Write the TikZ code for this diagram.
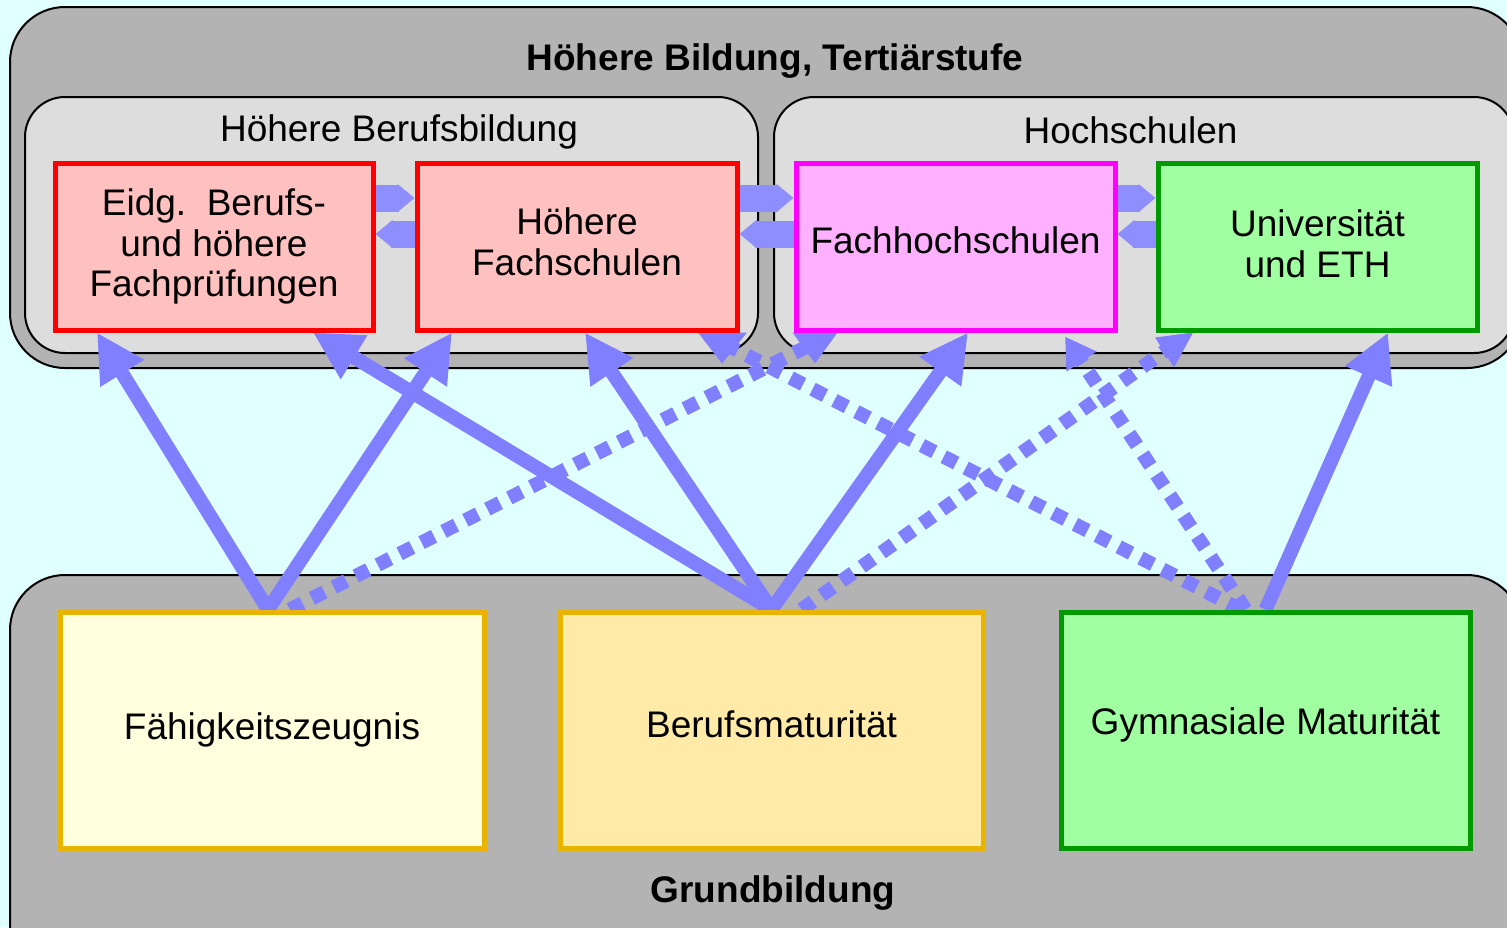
\documentclass[tikz,border=0pt]{standalone}
\usepackage{fontspec}
\setmainfont{Liberation Sans}
\usetikzlibrary{arrows.meta,calc}
\pgfdeclarelayer{bg}
\pgfdeclarelayer{conn}
\pgfsetlayers{bg,conn,main}
\definecolor{bgc}{HTML}{E0FFFF}
\definecolor{grayc}{HTML}{B3B3B3}
\definecolor{lgray}{HTML}{DDDDDD}
\definecolor{arr}{HTML}{8080FF}
\definecolor{arrb}{HTML}{8E8EFF}
\definecolor{redb}{HTML}{FF0000}
\definecolor{redf}{HTML}{FFC0C0}
\definecolor{magb}{HTML}{FF00FF}
\definecolor{magf}{HTML}{FFB0FF}
\definecolor{grnf}{HTML}{A0FFA0}
\definecolor{grnb}{HTML}{009900}
\definecolor{goldb}{HTML}{E8B400}
\definecolor{yelf}{HTML}{FFFFDD}
\definecolor{orf}{HTML}{FFEAA8}
\begin{document}
\begin{tikzpicture}[x=0.5pt,y=-0.5pt,
  txt/.style={font=\fontsize{18.5}{20.3}\selectfont},
  btxt/.style={font=\fontsize{18.5}{20.3}\selectfont\bfseries},
  frame/.style={fill=grayc, draw=black, line width=1pt, rounded corners=27.5pt},
  subframe/.style={fill=lgray, draw=black, line width=1pt, rounded corners=20pt},
  box/.style={draw, line width=2.5pt, inner sep=0pt, align=center, txt},
  topbox/.style={box, minimum height=83.5pt},
  botbox/.style={box, minimum height=118pt},
  solidarrow/.style={draw=arr, line width=7pt, -{Triangle[length=24pt,width=24pt]}},
  dotline/.style={draw=arr, line width=7pt, dash pattern=on 7pt off 5.3pt},
  blk/.style={draw=arrb, line width=13.5pt, -{Triangle[length=8.5pt,width=13.5pt]}}
]
\useasboundingbox (0,0) rectangle (1507,927);
\begin{pgfonlayer}{bg}
\fill[bgc] (0,0) rectangle (1507,927);
\draw[frame] (10,7) rectangle (1522,368);
\draw[subframe] (25,97) rectangle (758,353);
\draw[subframe] (774,97) rectangle (1514,353);
\draw[frame] (10,575) rectangle (1522,990);
\end{pgfonlayer}

% titles
\node[btxt, anchor=base] (ttop) at (775,70) {Höhere Bildung, Tertiärstufe};
\node[txt, anchor=base] (tberuf) at (399,141) {Höhere Berufsbildung};
\node[txt, anchor=base] (thoch) at (1130.5,143) {Hochschulen};
\node[btxt, anchor=base] (tgrund) at (773,902) {Grundbildung};

% top boxes
\node[topbox, draw=redb, fill=redf, minimum width=159pt] (eidg) at (214,246.5) {Eidg.\ \ Berufs-\\und höhere\\Fachprüfungen};
\node[topbox, draw=redb, fill=redf, minimum width=160pt, text depth=5pt] (hfs) at (577,246.5) {Höhere\\Fachschulen};
\node[topbox, draw=magb, fill=magf, minimum width=159.5pt, text depth=6.5pt] (fh) at (955.5,246.5) {Fachhochschulen};
\node[topbox, draw=grnb, fill=grnf, minimum width=159.5pt, text depth=3pt] (uni) at (1317.5,246.5) {Universität\\und ETH};

% bottom boxes
\node[botbox, draw=goldb, fill=yelf, minimum width=212pt] (fz) at (272,730) {Fähigkeitszeugnis};
\node[botbox, draw=goldb, fill=orf, minimum width=211.5pt, text depth=6pt] (bm) at (771.5,730) {Berufsmaturität};
\node[botbox, draw=grnb, fill=grnf, minimum width=204.5pt, text depth=9pt] (gm) at (1265.5,730) {Gymnasiale Maturität};

\begin{pgfonlayer}{conn}
% block arrows between top boxes
\draw[blk] ($(eidg.east)+(0,-48.5)$) -- ($(hfs.west)+(0,-48.5)$);
\draw[blk] ($(hfs.west)+(0,-12.5)$) -- ($(eidg.east)+(0,-12.5)$);
\draw[blk] ($(hfs.east)+(0,-48.5)$) -- ($(fh.west)+(0,-48.5)$);
\draw[blk] ($(fh.west)+(0,-12.5)$) -- ($(hfs.east)+(0,-12.5)$);
\draw[blk] ($(fh.east)+(0,-48.5)$) -- ($(uni.west)+(0,-48.5)$);
\draw[blk] ($(uni.west)+(0,-12.5)$) -- ($(fh.east)+(0,-12.5)$);

% dotted connectors
\draw[dotline] ($(fz.north)+(18,0)$) -- ($(fh.south)+(-140.5,10)$);
\fill[arr] ($(fh.south)+(-163,0)$) -- ($(fh.south)+(-118,0)$) -- ($(fh.south)+(-140.5,31)$) -- cycle;
\draw[dotline] ($(bm.north)+(30,0)$) -- ($(uni.south)+(-143.5,12)$);
\fill[arr] ($(uni.south)+(-162.5,5)$) -- ($(uni.south)+(-124.5,0)$) -- ($(uni.south)+(-143.5,35)$) -- cycle;
\draw[dotline] ($(gm.north)+(-25,0)$) -- ($(hfs.south)+(145,10)$);
\fill[arr] ($(hfs.south)+(121,0)$) -- ($(hfs.south)+(170,0)$) -- ($(hfs.south)+(145,31)$) -- cycle;
\draw[dotline, -{Triangle[length=15pt,width=17pt]}] ($(gm.north)+(-20,0)$) -- ($(fh.south)+(109.5,4)$);

% solid arrows
\draw[solidarrow] ($(fz.north)+(-4,0)$) -- ($(eidg.south)+(-117,0)$);
\draw[solidarrow] ($(fz.north)+(-4,0)$) -- ($(hfs.south)+(-125,0)$);
\draw[solidarrow] (bm.north) -- ($(eidg.south)+(99,0)$);
\draw[solidarrow] (bm.north) -- ($(hfs.south)+(8,0)$);
\draw[solidarrow] (bm.north) -- ($(fh.south)+(12.5,0)$);
\draw[solidarrow] (gm.north) -- ($(uni.south)+(70.5,0)$);
\end{pgfonlayer}
\end{tikzpicture}
\end{document}
